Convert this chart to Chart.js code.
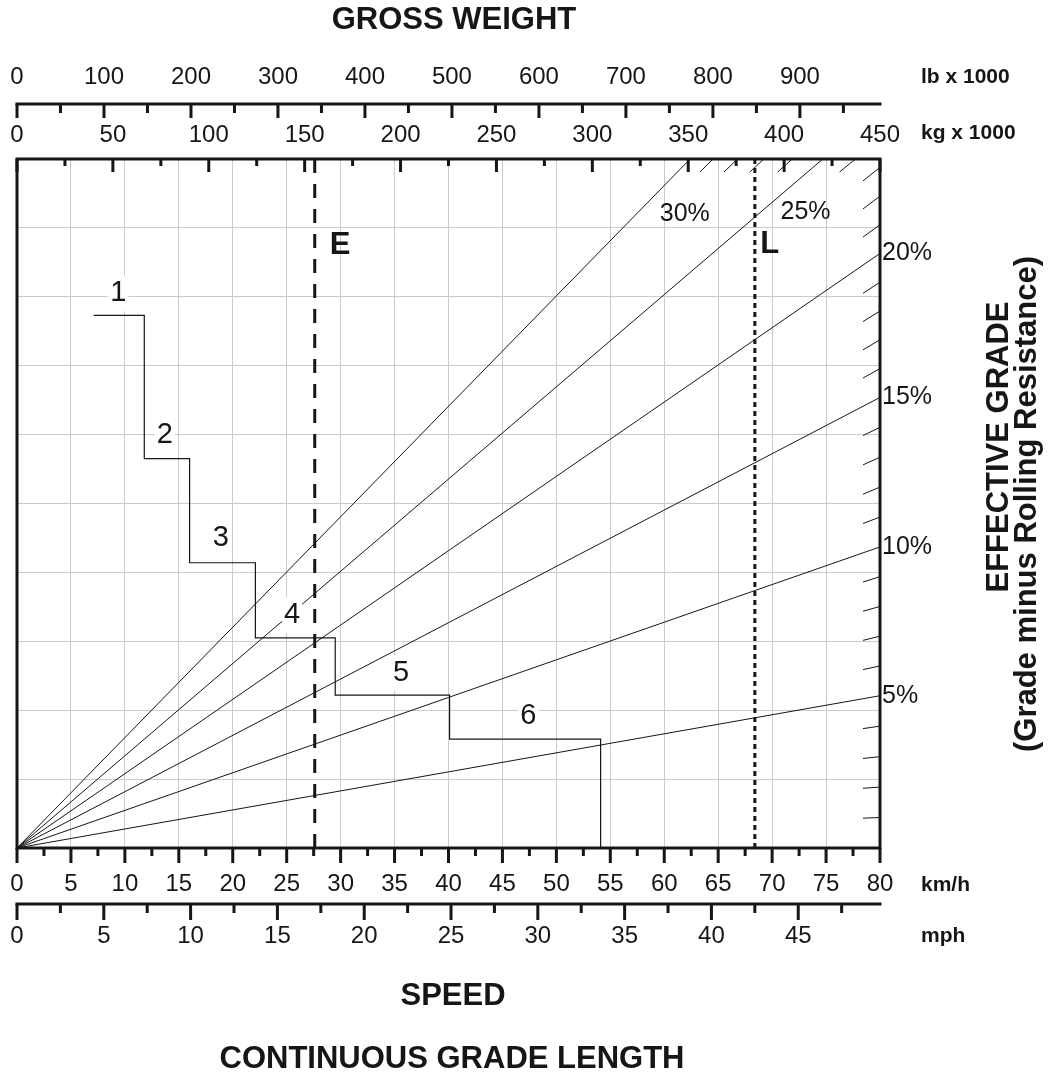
<!DOCTYPE html>
<html>
<head>
<meta charset="utf-8">
<title>Gross weight / speed / effective grade</title>
<script src="https://cdn.jsdelivr.net/npm/chart.js@4.4.1/dist/chart.umd.min.js"></script>
<style>
  html, body { margin: 0; padding: 0; background: #fff; }
  #chart { display: block; }
</style>
</head>
<body>
<canvas id="chart" width="1055" height="1074"></canvas>
<script>
// grade lines (effective grade), end point
const gradeLabels = ['5%', '10%', '15%', '20%', '25%', '30%'];
const gradeValues = [5, 10, 15, 20, 25, 30];
const gradeEndSpeed = [80, 80, 80, 80, 74.7, 62.4];
const gradeEndLevel = [2.21, 4.37, 6.54, 8.63, 10, 10];

// gear steps: speed where each gear ends, and its level
const shiftSpeed = [7.1, 11.8, 16.0, 22.1, 29.5, 40.1, 54.1];
const shiftLevel = [7.73, 5.65, 4.14, 3.05, 2.22, 1.58, 0];
const gearNames = ['1', '2', '3', '4', '5', '6'];

// vertical limits
const limitNames = ['E', 'L'];
const limitSpeed = [27.6, 68.4];

// axis labels
const kmhTicks = [0, 5, 10, 15, 20, 25, 30, 35, 40, 45, 50, 55, 60, 65, 70, 75, 80];
const mphTicks = [0, 5, 10, 15, 20, 25, 30, 35, 40, 45];
const kgTicks = [0, 50, 100, 150, 200, 250, 300, 350, 400, 450];
const lbTicks = [0, 100, 200, 300, 400, 500, 600, 700, 800, 900];
const hatchGrades = [1, 2, 3, 4, 6, 7, 8, 9, 11, 12, 13, 14, 16, 17, 18, 19, 21, 22, 23, 24, 26, 27, 28, 29];

// where the text labels sit (km/h, level)
const gearLabelAt = [[9.4, 8.05], [13.7, 6.0], [18.9, 4.5], [25.5, 3.38], [35.6, 2.54], [47.4, 1.92]];
const limitLabelAt = [[29.0, 8.74], [68.9, 8.76]];
const insideGradeLabelAt = { '25%': [73.1, 9.23], '30%': [61.9, 9.2] };

const FONT = '"Liberation Sans", Arial, Helvetica, sans-serif';
const INK = '#161616';
const GRID = '#cbcbcb';

const slopes = gradeValues.map((g, i) => gradeEndLevel[i] / gradeEndSpeed[i]);
function slopeFor(g) {
    if (g <= gradeValues[0]) return slopes[0] * g / gradeValues[0];
    for (let i = 1; i < gradeValues.length; i++) {
        if (g <= gradeValues[i]) {
            const t = (g - gradeValues[i - 1]) / (gradeValues[i] - gradeValues[i - 1]);
            return slopes[i - 1] + t * (slopes[i] - slopes[i - 1]);
        }
    }
    return slopes[slopes.length - 1];
}

const datasets = [];
gradeValues.forEach((g, i) => {
    datasets.push({
        label: gradeLabels[i],
        data: [{ x: 0, y: 0 }, { x: gradeEndSpeed[i], y: gradeEndLevel[i] }],
        borderColor: INK, borderWidth: 1, pointRadius: 0
    });
});
datasets.push({
    label: 'gears',
    data: shiftSpeed.map((s, i) => ({ x: s, y: shiftLevel[i] })),
    stepped: 'before',
    borderColor: INK, borderWidth: 1.2, pointRadius: 0
});
limitNames.forEach((n, i) => {
    datasets.push({
        label: n,
        data: [{ x: limitSpeed[i], y: 10 }, { x: limitSpeed[i], y: 0 }],
        borderColor: INK, borderWidth: 3,
        borderDash: n === 'E' ? [14, 11] : [5, 4],
        pointRadius: 0
    });
});

function minorOf(list, step, max) {
    return list.map(v => v + step / 2).filter(v => v <= max);
}

const decor = {
    id: 'decor',
    afterDraw(chart) {
        const ctx = chart.ctx;
        const { x, y, kg, lb, mph } = chart.scales;
        const { left, right, top, bottom } = chart.chartArea;
        ctx.save();

        // gear numbers on white patches
        ctx.font = '29px ' + FONT;
        ctx.textAlign = 'center';
        ctx.textBaseline = 'middle';
        gearNames.forEach((n, i) => {
            const px = x.getPixelForValue(gearLabelAt[i][0]);
            const py = y.getPixelForValue(gearLabelAt[i][1]);
            const w = ctx.measureText(n).width + 4;
            ctx.fillStyle = '#fff';
            ctx.fillRect(px - w / 2, py - 18, w, 36);
            ctx.fillStyle = INK;
            ctx.fillText(n, px, py);
        });

        // E / L
        ctx.font = 'bold 31px ' + FONT;
        ctx.textAlign = 'left';
        limitNames.forEach((n, i) => {
            ctx.fillText(n, x.getPixelForValue(limitLabelAt[i][0]), y.getPixelForValue(limitLabelAt[i][1]));
        });

        // grade labels
        ctx.font = '25px ' + FONT;
        gradeLabels.forEach((t, i) => {
            if (insideGradeLabelAt[t]) {
                ctx.textAlign = 'center';
                ctx.fillText(t, x.getPixelForValue(insideGradeLabelAt[t][0]), y.getPixelForValue(insideGradeLabelAt[t][1]));
            } else {
                ctx.textAlign = 'left';
                ctx.fillText(t, right + 2, y.getPixelForValue(gradeEndLevel[i]));
            }
        });

        // grade hatches along right and top border
        ctx.strokeStyle = INK;
        ctx.lineWidth = 1;
        ctx.beginPath();
        hatchGrades.forEach(g => {
            const s = slopeFor(g);
            if (s * x.max < y.max) {
                const x1 = right - 17;
                ctx.moveTo(x1, y.getPixelForValue(s * x.getValueForPixel(x1)));
                ctx.lineTo(right, y.getPixelForValue(s * x.max));
            } else {
                const y1 = top + 13;
                ctx.moveTo(x.getPixelForValue(y.getValueForPixel(y1) / s), y1);
                ctx.lineTo(x.getPixelForValue(y.max / s), top);
            }
        });
        ctx.stroke();

        // frame
        ctx.lineWidth = 3;
        ctx.strokeRect(left, top, right - left, bottom - top);

        // scale lines
        const lbLine = 104, mphLine = 904;
        ctx.beginPath();
        ctx.moveTo(left - 1.5, lbLine); ctx.lineTo(right + 1.5, lbLine);
        ctx.moveTo(left - 1.5, mphLine); ctx.lineTo(right + 1.5, mphLine);
        ctx.stroke();

        function ticks(scale, values, y0, len) {
            ctx.beginPath();
            values.forEach(v => {
                const px = scale.getPixelForValue(v);
                ctx.moveTo(px, y0);
                ctx.lineTo(px, y0 + len);
            });
            ctx.stroke();
        }
        ctx.lineWidth = 3;
        ticks(lb, lbTicks, lbLine, 14);
        ticks(lb, minorOf(lbTicks, 100, lb.max), lbLine, 9);
        ticks(kg, kgTicks, top, 13);
        ticks(kg, minorOf(kgTicks, 50, 450), top, 7);
        ticks(x, kmhTicks, bottom, 15);
        ticks(x, minorOf(kmhTicks, 5, 80), bottom, 8);
        ticks(mph, mphTicks, mphLine, 16);
        ticks(mph, minorOf(mphTicks, 5, mph.max), mphLine, 9);

        // tick labels
        ctx.font = '24px ' + FONT;
        ctx.textAlign = 'center';
        ctx.textBaseline = 'alphabetic';
        lbTicks.forEach(v => ctx.fillText(String(v), lb.getPixelForValue(v), 84));
        kgTicks.forEach(v => ctx.fillText(String(v), kg.getPixelForValue(v), 142));
        kmhTicks.forEach(v => ctx.fillText(String(v), x.getPixelForValue(v), 891));
        mphTicks.forEach(v => ctx.fillText(String(v), mph.getPixelForValue(v), 943));

        // unit labels
        ctx.font = 'bold 21px ' + FONT;
        ctx.textAlign = 'left';
        ctx.fillText('lb x 1000', 921, 83);
        ctx.fillText('kg x 1000', 921, 139);
        ctx.fillText('km/h', 921, 891);
        ctx.fillText('mph', 921, 942);

        // titles
        ctx.font = 'bold 31px ' + FONT;
        ctx.textAlign = 'center';
        ctx.fillText('GROSS WEIGHT', 454, 29);
        ctx.fillText('SPEED', 453, 1005);
        ctx.fillText('CONTINUOUS GRADE LENGTH', 452, 1068);

        ctx.save();
        ctx.translate(1008, 447);
        ctx.rotate(-Math.PI / 2);
        ctx.fillText('EFFECTIVE GRADE', 0, 0);
        ctx.restore();
        ctx.save();
        ctx.translate(1036, 504);
        ctx.rotate(-Math.PI / 2);
        ctx.fillText('(Grade minus Rolling Resistance)', 0, 0);
        ctx.restore();

        ctx.restore();
    }
};

new Chart(document.getElementById('chart').getContext('2d'), {
    type: 'line',
    data: { datasets: datasets },
    options: {
        responsive: false,
        animation: false,
        devicePixelRatio: 1,
        layout: { padding: { left: 17, top: 159, right: 175, bottom: 226 } },
        plugins: { legend: { display: false }, tooltip: { enabled: false } },
        scales: {
            x: {
                type: 'linear', min: 0, max: 80,
                ticks: { display: false, stepSize: 5 },
                grid: { color: GRID, lineWidth: 1, drawTicks: false },
                border: { display: false }
            },
            y: {
                type: 'linear', min: 0, max: 10,
                ticks: { display: false, stepSize: 1 },
                grid: { color: GRID, lineWidth: 1, drawTicks: false },
                border: { display: false }
            },
            kg: { type: 'linear', axis: 'x', position: 'top', min: 0, max: 450, display: false },
            lb: { type: 'linear', axis: 'x', position: 'top', min: 0, max: 450 / 0.45359237, display: false },
            mph: { type: 'linear', axis: 'x', position: 'bottom', min: 0, max: 80 / 1.609344, display: false }
        }
    },
    plugins: [decor]
});
</script>
</body>
</html>
